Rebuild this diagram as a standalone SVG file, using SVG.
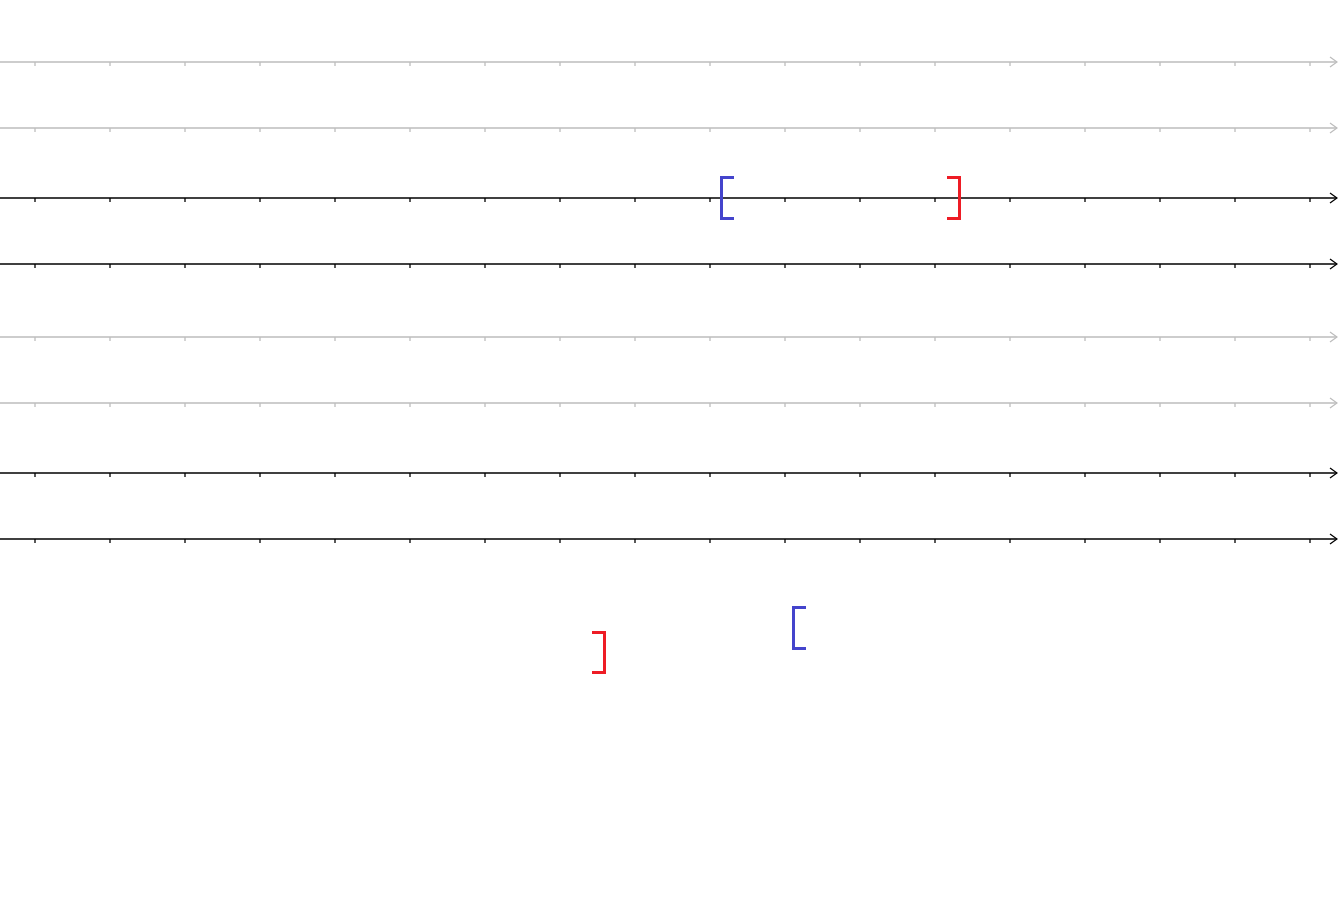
<svg xmlns="http://www.w3.org/2000/svg" width="1338" height="906" viewBox="0 0 1338 906">
<style>
.ax{stroke-width:1.3;fill:none}
.g{stroke:#bdbdbd}
.k{stroke:#000}
.tk{stroke-width:1.3}
.lb{fill:none;stroke:#4444cc;stroke-width:3}
.rb{fill:none;stroke:#ee1c25;stroke-width:3}
</style>
<defs>
<pattern id="ticks" x="35" y="0" width="75" height="6" patternUnits="userSpaceOnUse">
<line x1="0.5" y1="0" x2="0.5" y2="5" stroke="currentColor" stroke-width="1.3"/>
</pattern>
<g id="axis">
<line x1="0" y1="0" x2="1337" y2="0"/>
<path d="M1330,-5 L1337,0 L1330,5"/>
<path d="M35,0v4M110,0v4M185,0v4M260,0v4M335,0v4M410,0v4M485,0v4M560,0v4M635,0v4M710,0v4M785,0v4M860,0v4M935,0v4M1010,0v4M1085,0v4M1160,0v4M1235,0v4M1310,0v4"/>
</g>
</defs>
<g id="connectors">
<use id="axis1" href="#axis" class="ax g" y="62"/>
<use id="axis2" href="#axis" class="ax g" y="128"/>
<use id="axis3" href="#axis" class="ax k" y="198"/>
<use id="axis4" href="#axis" class="ax k" y="264"/>
<use id="axis5" href="#axis" class="ax g" y="337"/>
<use id="axis6" href="#axis" class="ax g" y="403"/>
<use id="axis7" href="#axis" class="ax k" y="473"/>
<use id="axis8" href="#axis" class="ax k" y="539"/>
</g>
<g id="bracket-left-1"><path class="lb" d="M734,177.5 H721.5 V218.5 H734"/></g>
<g id="bracket-right-1"><path class="rb" d="M947,177.5 H959.5 V218.5 H947"/></g>
<g id="bracket-right-2"><path class="rb" d="M592,632.5 H604.5 V672.5 H592"/></g>
<g id="bracket-left-2"><path class="lb" d="M806,607.5 H793.5 V648.5 H806"/></g>
</svg>
